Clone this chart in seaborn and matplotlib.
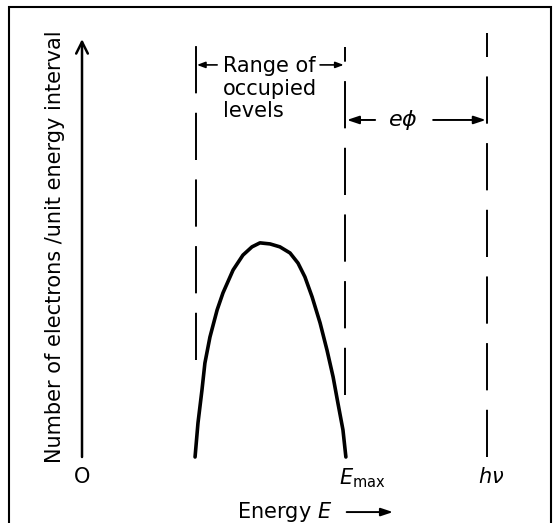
import matplotlib
matplotlib.use("Agg")
import matplotlib.pyplot as plt
import seaborn as sns
import pandas as pd
from matplotlib.patches import Rectangle

# energy scale in arbitrary units, E_max ~ 10
energy = [4.25, 4.36, 4.51, 4.62, 4.81, 5.08, 5.30, 5.68, 6.05, 6.39, 6.69, 7.07,
          7.44, 7.82, 8.12, 8.38, 8.65, 8.95, 9.21, 9.44, 9.62, 9.81, 9.92]
n_electrons = [0.0, 1.28, 2.52, 3.53, 4.51, 5.53, 6.17, 7.03, 7.59, 7.90, 8.05, 8.01,
               7.90, 7.67, 7.29, 6.77, 6.02, 5.04, 4.02, 3.01, 2.03, 1.02, 0.0]

E_low = 4.29
E_max = 9.89
h_nu = 15.23

# vertical extent of the three dashed markers (bottom, top)
low_span = (3.65, 15.56)
emax_span = (2.33, 15.41)
hnu_span = (0.0, 15.94)

axis_top = 15.71
df = pd.DataFrame({"E": energy, "N": n_electrons})

sns.set_theme(style="white")
plt.rcParams["font.family"] = ["DejaVu Sans"]
plt.rcParams["mathtext.fontset"] = "dejavusans"
plt.rcParams["lines.scale_dashes"] = False
plt.rcParams["text.color"] = "black"

fig = plt.figure(figsize=(5.57, 5.23), dpi=100)
ax = fig.add_axes([0, 0, 1, 1])
ax.set_xlim(-3.083, 17.857)
ax.set_ylim(-2.481, 17.180)
ax.axis("off")

# frame
ax.add_patch(Rectangle((0.016, -0.02), 0.973, 1.007, transform=ax.transAxes,
                       fill=False, ec="black", lw=1.5, clip_on=False))

# distribution curve
sns.lineplot(data=df, x="E", y="N", color="black", lw=2.6, sort=False,
             estimator=None, ax=ax)

dash = (0, (34, 14))
for x, (y0, y1) in zip([E_low, E_max, h_nu], [low_span, emax_span, hnu_span]):
    ax.plot([x, x], [y0, y1], color="black", lw=1.4, linestyle=dash,
            dash_capstyle="butt")

# vertical axis arrow
ax.annotate("", xy=(0, axis_top), xytext=(0, 0),
            arrowprops=dict(arrowstyle="->,head_length=0.7,head_width=0.35",
                            color="black", lw=1.8, shrinkA=0, shrinkB=0))
ax.text(-1.02, 7.89, "Number of electrons /unit energy interval", rotation=90,
        ha="center", va="center", fontsize=15)

# baseline labels
ax.text(0, -0.75, "O", ha="center", va="center", fontsize=15)
ax.text(10.53, -0.78, r"$E_{\rm max}$", ha="center", va="center", fontsize=15)
ax.text(15.38, -0.75, r"$h\nu$", ha="center", va="center", fontsize=15)
ax.text(5.83, -2.07, r"Energy $E$", ha="left", va="center", fontsize=15)
ax.annotate("", xy=(11.69, -2.07), xytext=(9.95, -2.07),
            arrowprops=dict(arrowstyle="-|>,head_length=0.6,head_width=0.2",
                            color="black", lw=1.4, shrinkA=0, shrinkB=0))

# range of occupied levels
ax.text(5.30, 13.85, "Range of\noccupied\nlevels", ha="left", va="center",
        fontsize=15, linespacing=1.15)
arrow_small = dict(arrowstyle="-|>,head_length=0.4,head_width=0.15",
                   color="black", lw=1.2, shrinkA=0, shrinkB=0)
ax.annotate("", xy=(E_low + 0.03, 14.74), xytext=(5.08, 14.74),
            arrowprops=arrow_small)
ax.annotate("", xy=(E_max - 0.05, 14.74), xytext=(8.95, 14.74),
            arrowprops=arrow_small)

# work function
ax.text(12.07, 12.67, r"$e\phi$", ha="center", va="center", fontsize=16)
arrow_mid = dict(arrowstyle="-|>,head_length=0.6,head_width=0.2",
                 color="black", lw=1.4, shrinkA=0, shrinkB=0)
ax.annotate("", xy=(E_max + 0.07, 12.67), xytext=(11.02, 12.67),
            arrowprops=arrow_mid)
ax.annotate("", xy=(h_nu - 0.05, 12.67), xytext=(13.20, 12.67),
            arrowprops=arrow_mid)

fig.savefig("out.png", dpi=100)
